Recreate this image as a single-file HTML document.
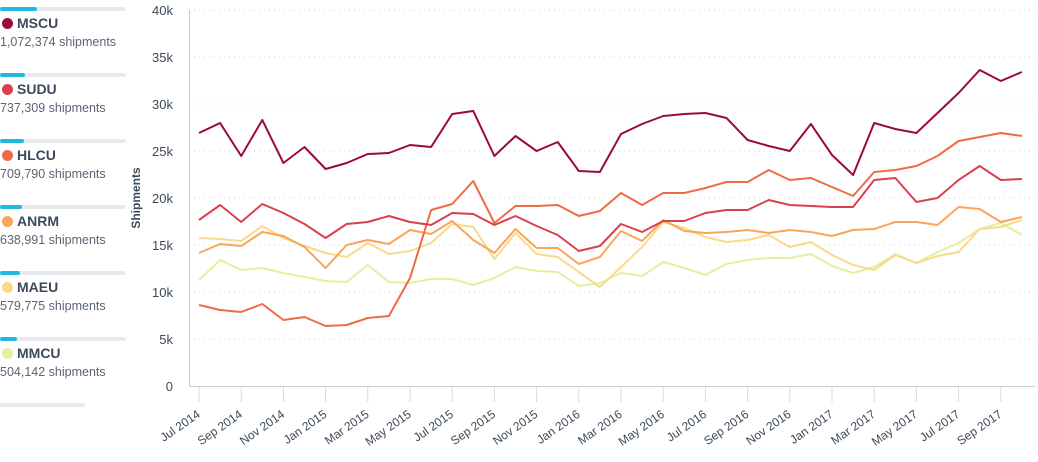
<!DOCTYPE html>
<html><head><meta charset="utf-8"><style>
body{margin:0;width:1038px;height:462px;background:#fff;font-family:"Liberation Sans",sans-serif;overflow:hidden;position:relative}
.it{position:absolute;left:0;width:130px}
.bar{position:absolute;left:0;top:0;width:126px;height:4px;background:#e8eaed;border-radius:2px}
.bar i{display:block;height:4px;background:#1fbae0;border-radius:2px}
.nm{position:absolute;left:2px;top:8px;font-size:14px;font-weight:bold;color:#3d4a5a;white-space:nowrap}
.nm b{display:inline-block;width:11px;height:11px;border-radius:50%;margin-right:4px;vertical-align:-1px}
.ct{position:absolute;left:0;top:28px;font-size:12.5px;color:#5a6575;white-space:nowrap}
</style></head><body>
<div class="it" style="top:7px"><div class="bar"><i style="width:37px"></i></div><div class="nm"><b style="background:#9b0a3e"></b>MSCU</div><div class="ct">1,072,374 shipments</div></div>
<div class="it" style="top:73px"><div class="bar"><i style="width:25px"></i></div><div class="nm"><b style="background:#d9414f"></b>SUDU</div><div class="ct">737,309 shipments</div></div>
<div class="it" style="top:139px"><div class="bar"><i style="width:24px"></i></div><div class="nm"><b style="background:#f06a45"></b>HLCU</div><div class="ct">709,790 shipments</div></div>
<div class="it" style="top:205px"><div class="bar"><i style="width:22px"></i></div><div class="nm"><b style="background:#f9a55a"></b>ANRM</div><div class="ct">638,991 shipments</div></div>
<div class="it" style="top:271px"><div class="bar"><i style="width:20px"></i></div><div class="nm"><b style="background:#fcd98a"></b>MAEU</div><div class="ct">579,775 shipments</div></div>
<div class="it" style="top:337px"><div class="bar"><i style="width:17px"></i></div><div class="nm"><b style="background:#e4f0a0"></b>MMCU</div><div class="ct">504,142 shipments</div></div>
<div class="it" style="top:403px"><div class="bar" style="width:85px"></div></div>
<svg id="s" width="1038" height="462" style="position:absolute;left:0;top:0" font-family="Liberation Sans, sans-serif"></svg>
<script>
var s=document.getElementById('s'),h='';
for(var k=0;k<=8;k++){var y=386-k*47;
 if(k>0)h+='<line x1="189" x2="1035" y1="'+y+'" y2="'+y+'" stroke="#d0d4da" stroke-dasharray="1,4"/>';
 h+='<text x="173" y="'+(y+5)+'" text-anchor="end" font-size="13" fill="#3d4a5a">'+(k?k*5+'k':'0')+'</text>';}
h+='<line x1="189.5" x2="189.5" y1="10" y2="386" stroke="#c8ccd2"/><line x1="189" x2="1035" y1="386.5" y2="386.5" stroke="#c8ccd2"/>';
h+='<text transform="translate(140,198) rotate(-90)" text-anchor="middle" font-size="12" font-weight="bold" fill="#3d4a5a">Shipments</text>';
for(var i=0;i<40;i+=2){var x=199+21.1*i;h+='<line x1="'+x+'" x2="'+x+'" y1="387" y2="402" stroke="#d6dae0"/>';
 var m=(6+i)%12, yy=2014+Math.floor((6+i)/12);var nm=['Jan','Feb','Mar','Apr','May','Jun','Jul','Aug','Sep','Oct','Nov','Dec'][m];
 h+='<text transform="translate('+(x+2)+',416) rotate(-35)" text-anchor="end" font-size="12" fill="#3d4a5a">'+nm+' '+yy+'</text>';}
var D=[
['#e4f0a0',[280,260,270,268,273,277,281,282,265,282,283,279,279,285,278,267,271,272,286,283,273,276,262,268,275,264,260,258,258,254,266,273,267,254,263,252,243,229,223,235]],
['#fcd98a',[238,239,241,226,238,246,253,257,243,254,251,243,224,227,259,233,254,257,272,287,267,247,222,228,237,242,240,235,247,242,255,265,270,255,263,256,252,229,227,220]],
['#f9a55a',[253,244,246,232,236,247,268,245,240,244,230,234,221,240,253,229,248,248,264,257,231,241,220,231,233,232,230,233,230,232,236,230,229,222,222,225,207,209,222,217]],
['#f06a45',[305,310,312,304,320,317,326,325,318,316,278,210,204,181,223,206,206,205,216,211,193,205,193,193,188,182,182,170,180,178,187,196,172,170,166,156,141,137,133,136]],
['#d9414f',[220,205,222,204,213,224,238,224,222,216,222,225,213,214,225,216,226,235,251,246,224,232,221,221,213,210,210,200,205,206,207,207,180,178,202,198,180,166,180,179]],
['#9b0a3e',[133,123,156,120,163,147,169,163,154,153,145,147,114,111,156,136,151,142,171,172,134,124,116,114,113,118,140,146,151,124,155,175,123,129,133,113,93,70,81,72]]];
D.forEach(function(d){h+='<polyline fill="none" stroke="'+d[0]+'" stroke-width="2" stroke-linejoin="round" points="'+d[1].map(function(v,i){return (199+21.1*i).toFixed(1)+','+v}).join(' ')+'"/>';});
s.innerHTML=h;
</script>
</body></html>
